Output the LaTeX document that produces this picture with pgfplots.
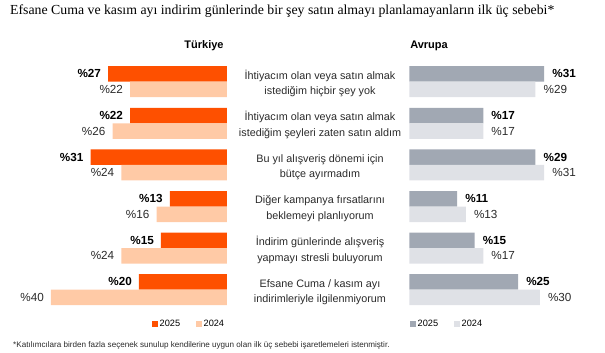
\documentclass[border=0pt]{standalone}
\usepackage{fontspec}
\setmainfont{Liberation Sans}
\newfontfamily\seriffont{Liberation Serif}
\usepackage{pgfplots}
\pgfplotsset{compat=1.18}
\definecolor{or1}{HTML}{FE5000}
\definecolor{or2}{HTML}{FFCAA6}
\definecolor{gr1}{HTML}{A1A8B3}
\definecolor{gr2}{HTML}{DFE1E6}
\definecolor{lab2}{HTML}{2A2A2A}
\begin{document}
\begin{tikzpicture}[x=1pt,y=1pt]
\path[use as bounding box] (0pt,0pt) rectangle (605pt,353pt);
\pgfplotsset{
 base/.style={scale only axis, hide axis, xbar, ymin=-0.5, ymax=5.5, height=249.6pt,
   bar width=15.5pt, clip=false,
   nodes near coords={\%\pgfmathprintnumber[assume math mode=true]{\pgfplotspointmeta}},
   legend columns=2,
   legend style={draw=none, fill=none, font=\fontsize{9.2}{11}\selectfont, inner sep=0pt,
     /tikz/every even column/.append style={column sep=14pt}},
   legend image code/.code={\fill[##1] (0pt,-2.75pt) rectangle (5.5pt,2.75pt);}},
 lab25/.style={every node near coord/.append style={anchor=#1, inner sep=0pt, font=\fontsize{11.7}{14}\selectfont\bfseries, text=black}},
 lab24/.style={every node near coord/.append style={anchor=#1, inner sep=0pt, font=\fontsize{11.7}{14}\selectfont, text=lab2}},
}
% Turkiye
\begin{axis}[base, at={(7pt,42.5pt)}, anchor=south west, width=220pt, xmin=0, xmax=50, x dir=reverse,
  legend style={at={(0.659,-0.054)}, anchor=west}]
\addplot[fill=or1, draw=none, bar shift=7.75pt, lab25=east,
  every node near coord/.append style={xshift=-7pt}]
  coordinates {(27,5) (22,4) (31,3) (13,2) (15,1) (20,0)};
\addplot[fill=or2, draw=none, bar shift=-7.75pt, lab24=east,
  every node near coord/.append style={xshift=-7pt}]
  coordinates {(22,5) (26,4) (24,3) (16,2) (24,1) (40,0)};
\legend{2025,2024}
\end{axis}
% Avrupa
\begin{axis}[base, at={(409.3pt,42.5pt)}, anchor=south west, width=174pt, xmin=0, xmax=40,
  legend style={at={(0.004,-0.054)}, anchor=west}]
\addplot[fill=gr1, draw=none, bar shift=7.75pt, lab25=west,
  every node near coord/.append style={xshift=8pt}]
  coordinates {(31,5) (17,4) (29,3) (11,2) (15,1) (25,0)};
\addplot[fill=gr2, draw=none, bar shift=-7.75pt, lab24=west,
  every node near coord/.append style={xshift=8pt}]
  coordinates {(29,5) (17,4) (31,3) (13,2) (17,1) (30,0)};
\legend{2025,2024}
\end{axis}
% title
\node[anchor=base west, inner sep=0pt, font=\seriffont\fontsize{13.8}{16}\selectfont] at (10pt,338pt) {Efsane Cuma ve kasım ayı indirim günlerinde bir şey satın almayı planlamayanların ilk üç sebebi*};
\node[anchor=base, inner sep=0pt, font=\fontsize{11}{13}\selectfont\bfseries] at (204pt,304pt) {Türkiye};
\node[anchor=base, inner sep=0pt, font=\fontsize{11}{13}\selectfont\bfseries] at (429pt,304pt) {Avrupa};
% category labels
\begin{scope}[every node/.style={anchor=base, inner sep=0pt, font=\fontsize{10.8}{13}\selectfont, text=lab2}]
\node at (320pt,273.8pt) {İhtiyacım olan veya satın almak};
\node at (320pt,258.3pt) {istediğim hiçbir şey yok};
\node at (320pt,232.2pt) {İhtiyacım olan veya satın almak};
\node at (320pt,216.7pt) {istediğim şeyleri zaten satın aldım};
\node at (320pt,190.6pt) {Bu yıl alışveriş dönemi için};
\node at (320pt,175.1pt) {bütçe ayırmadım};
\node at (320pt,149.0pt) {Diğer kampanya fırsatlarını};
\node at (320pt,133.5pt) {beklemeyi planlıyorum};
\node at (320pt,107.4pt) {İndirim günlerinde alışveriş};
\node at (320pt,91.9pt) {yapmayı stresli buluyorum};
\node at (320pt,65.8pt) {Efsane Cuma / kasım ayı};
\node at (320pt,50.3pt) {indirimleriyle ilgilenmiyorum};
\end{scope}
\node[anchor=base west, inner sep=0pt, font=\fontsize{8.1}{10}\selectfont, text=lab2] at (13pt,5pt) {*Katılımcılara birden fazla seçenek sunulup kendilerine uygun olan ilk üç sebebi işaretlemeleri istenmiştir.};
\end{tikzpicture}
\end{document}
